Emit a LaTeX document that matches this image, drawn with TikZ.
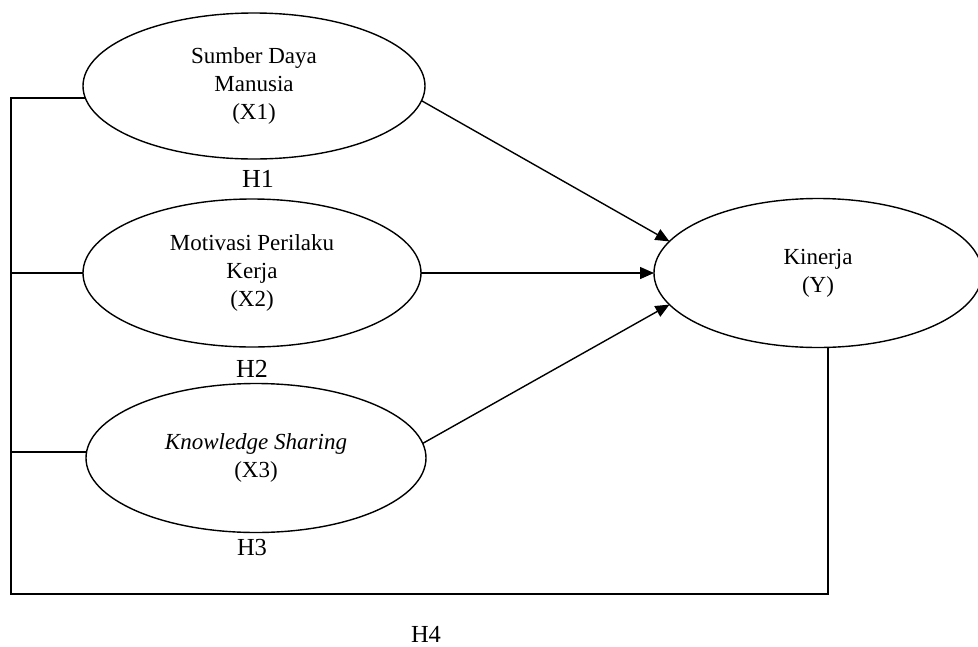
\documentclass[tikz,border=0pt]{standalone}
\usepackage{fontspec}
\setmainfont{Liberation Serif}
\usetikzlibrary{shapes.geometric,arrows.meta}
\begin{document}
\begin{tikzpicture}[x=1pt,y=-1pt,
  line width=1.4pt,
  var/.style={draw,ellipse,inner sep=0pt,outer sep=0pt,align=center,
    font=\fontsize{23}{28}\selectfont},
  hyp/.style={font=\fontsize{26}{30}\selectfont,inner sep=0pt},
  hypsmall/.style={font=\fontsize{24.5}{28}\selectfont,inner sep=0pt},
  arr/.style={-{Triangle[length=14pt,width=12pt]}}]
\useasboundingbox (0,0) rectangle (978,646);
\node[var,minimum width=342pt,minimum height=146pt] (x1) at (254,86)
  {Sumber Daya\\Manusia\\(X1)};
\node[var,minimum width=338pt,minimum height=148pt] (x2) at (252,273)
  {Motivasi Perilaku\\Kerja\\(X2)};
\node[var,minimum width=340pt,minimum height=149pt] (x3) at (256,458)
  {\textit{Knowledge Sharing}\\(X3)};
\node[var,minimum width=328pt,minimum height=149pt] (y) at (818,273)
  {Kinerja\\(Y)};
\node[hyp] (h1) at (258,179) {H1};
\node[hyp] (h2) at (252,369) {H2};
\node[hypsmall] (h3) at (252,548) {H3};
\node[hypsmall] (h4) at (426,634) {H4};
\coordinate (tl) at (11,99);
\coordinate (bl) at (11,594);
\coordinate (br) at (828,594);
\draw[arr] (x1.-5) -- (y.168);
\draw[arr] (x2.east) -- (y.west);
\draw[arr] (x3.5) -- (y.192);
\draw (x1.184) -- (x1.184 -| tl) -- (bl) -- (br) -- (br |- y.south);
\draw (x2.west) -- (x2.west -| tl);
\draw (x3.178) -- (x3.178 -| tl);
\end{tikzpicture}
\end{document}
